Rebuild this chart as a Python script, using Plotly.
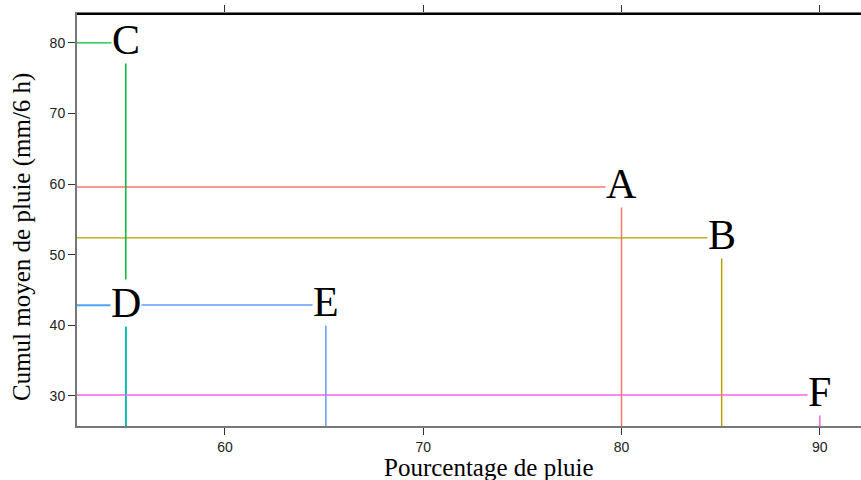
import plotly.graph_objects as go

labels = ["A", "B", "C", "D", "E", "F"]
pct_pluie = [80.0, 85.05, 55.0, 55.01, 65.09, 90.0]
cumul_pluie = [59.6, 52.38, 80.0, 42.79, 42.89, 30.14]
colors = ["#F8766D", "#B79F00", "#00BA38", "#00BFC4", "#619CFF", "#F564E3"]

x_ticks = [60, 70, 80, 90]
y_ticks = [30, 40, 50, 60, 70, 80]
x_range = [52.54, 92.48]
y_range = [25.75, 84.1]

PW, PH = 792, 412  # plot area size in px

fig = go.Figure()

for lab, x, y, c in zip(labels, pct_pluie, cumul_pluie, colors):
    fig.add_trace(go.Scatter(x=[x_range[0], x], y=[y, y], mode="lines",
                             line=dict(color=c, width=1.3), showlegend=False,
                             hoverinfo="skip"))
    fig.add_trace(go.Scatter(x=[x, x], y=[y, y_range[0]], mode="lines",
                             line=dict(color=c, width=1.5), showlegend=False,
                             hoverinfo="skip"))

for lab, x, y in zip(labels, pct_pluie, cumul_pluie):
    fig.add_annotation(x=x, y=y, text=lab, showarrow=False,
                       xanchor="center", yanchor="middle", yshift=3,
                       font=dict(family="Liberation Serif", size=42, color="black"),
                       bgcolor="white", borderpad=0)

fig.add_shape(type="line", xref="paper", yref="paper", x0=0, x1=1, y0=1, y1=1,
              line=dict(color="black", width=2))

fig.add_annotation(text="Pourcentage de pluie", xref="paper", yref="paper",
                   x=(489 - 77) / PW, y=(426 - 467) / PH, showarrow=False,
                   xanchor="center", yanchor="middle",
                   font=dict(family="Liberation Serif", size=25, color="black"))
fig.add_annotation(text="Cumul moyen de pluie (mm/6 h)", xref="paper", yref="paper",
                   x=(22 - 77) / PW, y=(426 - 237) / PH, showarrow=False,
                   textangle=-90, xanchor="center", yanchor="middle",
                   font=dict(family="Liberation Serif", size=25, color="black"))

fig.update_layout(
    width=869, height=480,
    margin=dict(l=77, r=0, t=14, b=54, autoexpand=False),
    paper_bgcolor="white", plot_bgcolor="white",
    xaxis=dict(range=x_range, tickvals=x_ticks, ticktext=[str(v) for v in x_ticks],
               showgrid=False, zeroline=False, showline=True, linecolor="#777",
               linewidth=2, ticks="outside", ticklen=7, tickcolor="#333",
               mirror="ticks", automargin=False,
               tickfont=dict(family="Liberation Sans", size=14, color="#222")),
    yaxis=dict(range=y_range, tickvals=y_ticks, ticktext=[str(v) for v in y_ticks],
               showgrid=False, zeroline=False, showline=True, linecolor="#777",
               linewidth=2, ticks="outside", ticklen=7, tickcolor="#333",
               automargin=False,
               tickfont=dict(family="Liberation Sans", size=14, color="#222")),
)

fig.write_html("out.html",
               config={"displayModeBar": False},
               post_script="document.body.style.margin='0';document.body.style.overflow='hidden';")
